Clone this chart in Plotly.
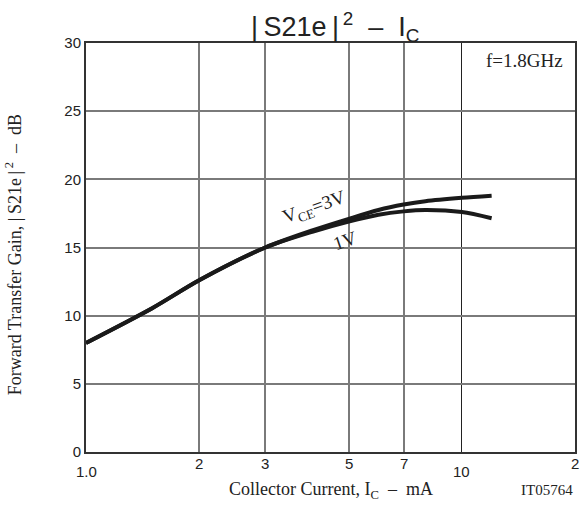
import math
import plotly.graph_objects as go

# ---- data ----
ic_ma = [1.0, 1.5, 2.0, 3.0, 4.0, 5.0, 6.0, 7.0, 8.0, 10.0, 12.0]
gain_3v = [8.0, 10.55, 12.6, 15.0, 16.25, 17.1, 17.75, 18.15, 18.4, 18.65, 18.8]
gain_1v = [8.0, 10.55, 12.6, 15.0, 16.15, 16.9, 17.4, 17.65, 17.75, 17.6, 17.15]

x_major_tick = [1.0, 10.0, 20.0]
x_major_text = ["1.0", "10", "2"]
x_minor_tick = [2.0, 3.0, 5.0, 7.0]
x_minor_text = ["2", "3", "5", "7"]
y_ticks = [0, 5, 10, 15, 20, 25, 30]

SERIF = "Liberation Serif, Times New Roman, serif"
SANS = "Liberation Sans, Arial, sans-serif"

# plot area geometry (pixels)
W, H = 581, 506
L, R, T, B = 86, 4, 43, 54
PW, PH = W - L - R, H - T - B


def px_x(px):
    return (px - L) / PW


def px_y(py):
    return (H - B - py) / PH


fig = go.Figure()
for name, vals in [("3V", gain_3v), ("1V", gain_1v)]:
    fig.add_trace(go.Scatter(
        x=ic_ma, y=vals, mode="lines", name=name,
        line=dict(color="#1a1a1a", width=4, shape="spline", smoothing=0.8),
        showlegend=False, hoverinfo="skip",
    ))

ann = []
# x tick labels (major lower, minor higher, as in the reference)
for v, t in zip(x_major_tick, x_major_text):
    yy = px_y(463) if t == "2" else px_y(471)
    ann.append(dict(x=math.log10(v), xref="x", y=yy, yref="paper", text=t,
                    showarrow=False, xanchor="center", yanchor="middle",
                    font=dict(family=SANS, size=15, color="#222")))
for v, t in zip(x_minor_tick, x_minor_text):
    ann.append(dict(x=math.log10(v), xref="x", y=px_y(463), yref="paper", text=t,
                    showarrow=False, xanchor="center", yanchor="middle",
                    font=dict(family=SANS, size=15, color="#222")))

# title
ann.append(dict(x=px_x(336), y=px_y(27), xref="paper", yref="paper",
                text="|\u2009S21e\u2009|<sup>\u20092</sup>  –  I<sub>C</sub>", showarrow=False,
                xanchor="center", yanchor="middle",
                font=dict(family=SANS, size=27, color="#222")))
# axis titles
ann.append(dict(x=px_x(332), y=px_y(490), xref="paper", yref="paper",
                text="Collector Current, I<sub>C</sub>  –  mA", showarrow=False,
                xanchor="center", yanchor="middle",
                font=dict(family=SERIF, size=18, color="#222")))
ann.append(dict(x=px_x(14), y=px_y(255), xref="paper", yref="paper",
                text="Forward Transfer Gain, |\u2009S21e\u2009|<sup>\u20092</sup>  –  dB",
                showarrow=False, textangle=-90, xanchor="center", yanchor="middle",
                font=dict(family=SERIF, size=18, color="#222")))
ann.append(dict(x=px_x(577), y=px_y(490), xref="paper", yref="paper",
                text="IT05764", showarrow=False, xanchor="right", yanchor="middle",
                font=dict(family=SERIF, size=15, color="#222")))
ann.append(dict(x=px_x(567), y=px_y(61), xref="paper", yref="paper",
                text="f=1.8GHz", showarrow=False, xanchor="right", yanchor="middle",
                font=dict(family=SERIF, size=19, color="#222")))
# curve labels
ann.append(dict(x=px_x(315), y=px_y(208), xref="paper", yref="paper",
                text="V<sub>CE</sub>=3V", showarrow=False, textangle=-19,
                xanchor="center", yanchor="middle",
                font=dict(family=SERIF, size=19, color="#222")))
ann.append(dict(x=px_x(346), y=px_y(240), xref="paper", yref="paper",
                text="1V", showarrow=False, textangle=-19,
                xanchor="center", yanchor="middle",
                font=dict(family=SERIF, size=19, color="#222")))

fig.update_layout(
    width=W, height=H,
    margin=dict(l=L, r=R, t=T, b=B),
    paper_bgcolor="white", plot_bgcolor="white",
    annotations=ann,
    xaxis=dict(
        type="log", range=[0, math.log10(20)],
        tickvals=[10], showticklabels=False, ticks="",
        showgrid=True, gridcolor="#222", gridwidth=1.3,
        minor=dict(tickvals=x_minor_tick, showgrid=True, gridcolor="#7a7a7a",
                   gridwidth=1.5, ticks=""),
        showline=True, linecolor="#333", linewidth=2, mirror=True,
        zeroline=False, fixedrange=True,
    ),
    yaxis=dict(
        range=[0, 30], tickvals=y_ticks, ticks="",
        showgrid=True, gridcolor="#7a7a7a", gridwidth=1.5,
        showline=True, linecolor="#333", linewidth=2, mirror=True,
        zeroline=False, fixedrange=True,
        tickfont=dict(family=SANS, size=15, color="#222"),
    ),
)

fig.write_html(
    "out.html",
    config={"displayModeBar": False},
    post_script="document.body.style.margin='0';document.body.style.overflow='hidden';",
)
